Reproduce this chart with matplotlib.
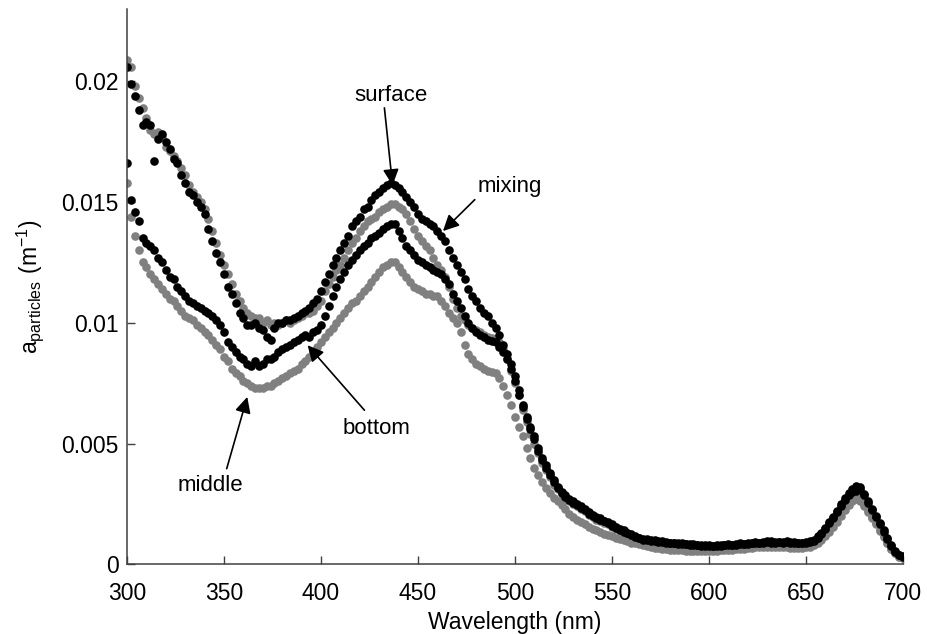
import numpy as np
import matplotlib
matplotlib.use("Agg")
import matplotlib.pyplot as plt

plt.rcParams['font.family'] = ['Liberation Sans', 'DejaVu Sans']

# particulate absorption spectra, 2 nm steps, values in 1e-3 m^-1
wavelength = np.arange(300, 701, 2)

surface = [
    20.6, 19.9, 19.4, 18.8, 18.2, 18.3, 18.2, 16.7, 17.6, 17.8,
    17.5, 17.2, 16.8, 16.6, 16.1, 15.8, 15.4, 15.3, 15.0, 14.8,
    14.5, 13.9, 13.4, 12.9, 12.5, 12.0, 11.5, 11.2, 10.8, 10.4,
    10.2, 9.9, 9.9, 10.0, 9.8, 9.7, 9.4, 9.3, 9.8, 10.0,
    10.0, 10.1, 10.1, 10.2, 10.3, 10.4, 10.5, 10.6, 10.8, 11.0,
    11.3, 11.7, 12.0, 12.4, 12.7, 13.0, 13.3, 13.6, 14.0, 14.2,
    14.4, 14.7, 14.8, 15.1, 15.3, 15.4, 15.6, 15.7, 15.8, 15.7,
    15.6, 15.4, 15.2, 15.0, 14.8, 14.5, 14.3, 14.2, 14.1, 14.0,
    13.8, 13.6, 13.4, 13.0, 12.7, 12.4, 12.1, 11.8, 11.4, 11.1,
    10.9, 10.6, 10.4, 10.3, 10.0, 9.8, 9.5, 9.1, 8.7, 8.3,
    7.8, 7.2, 6.6, 6.1, 5.7, 5.3, 4.8, 4.4, 4.1, 3.8,
    3.5, 3.2, 3.0, 2.85, 2.7, 2.6, 2.5, 2.4, 2.3, 2.15,
    2.05, 1.95, 1.9, 1.8, 1.75, 1.65, 1.55, 1.45, 1.4, 1.3,
    1.25, 1.15, 1.1, 1.05, 1.05, 1.0, 1.0, 0.98, 0.95, 0.92,
    0.9, 0.9, 0.88, 0.86, 0.85, 0.83, 0.82, 0.8, 0.78, 0.8,
    0.78, 0.76, 0.8, 0.78, 0.8, 0.82, 0.8, 0.84, 0.86, 0.85,
    0.88, 0.9, 0.92, 0.9, 0.94, 0.96, 0.95, 0.92, 0.94, 0.92,
    0.95, 0.93, 0.92, 0.9, 0.9, 0.92, 0.95, 1.0, 1.15, 1.3,
    1.5, 1.75, 1.95, 2.2, 2.5, 2.75, 2.95, 3.1, 3.25, 3.1,
    2.85, 2.55, 2.25, 1.95, 1.65, 1.35, 1.05, 0.75, 0.5, 0.38,
    0.3,
]

mixing = [
    20.9, 20.6, 19.8, 19.3, 18.9, 18.5, 18.0, 17.8, 17.9, 17.7,
    17.3, 17.1, 16.9, 16.7, 16.4, 16.1, 15.7, 15.4, 15.2, 15.0,
    14.7, 14.3, 13.8, 13.3, 12.8, 12.4, 12.0, 11.6, 11.2, 10.9,
    10.6, 10.4, 10.3, 10.2, 10.2, 10.0, 10.1, 9.9, 10.0, 9.9,
    10.0, 10.1, 10.0, 10.1, 10.2, 10.3, 10.4, 10.4, 10.5, 10.7,
    10.9, 11.3, 11.6, 11.9, 12.2, 12.4, 12.7, 13.0, 13.3, 13.5,
    13.8, 14.0, 14.2, 14.3, 14.4, 14.6, 14.7, 14.8, 14.9, 14.9,
    14.8, 14.7, 14.5, 14.2, 13.9, 13.6, 13.4, 13.2, 13.0, 12.7,
    12.4, 12.2, 11.9, 11.5, 11.0, 10.6, 10.3, 10.1, 9.9, 9.8,
    9.7, 9.6, 9.5, 9.4, 9.35, 9.3, 9.2, 8.9, 8.5, 8.0,
    7.5, 7.0, 6.4, 5.9, 5.4, 5.0, 4.6, 4.2, 3.9, 3.6,
    3.3, 3.1, 2.9, 2.75, 2.6, 2.5, 2.4, 2.3, 2.2, 2.05,
    1.95, 1.85, 1.8, 1.7, 1.65, 1.55, 1.45, 1.38, 1.3, 1.22,
    1.15, 1.08, 1.02, 0.98, 0.95, 0.92, 0.9, 0.88, 0.85, 0.83,
    0.82, 0.8, 0.78, 0.76, 0.75, 0.74, 0.72, 0.7, 0.7, 0.68,
    0.7, 0.68, 0.7, 0.72, 0.7, 0.72, 0.74, 0.75, 0.76, 0.78,
    0.8, 0.8, 0.82, 0.84, 0.82, 0.85, 0.84, 0.82, 0.84, 0.82,
    0.84, 0.82, 0.8, 0.8, 0.8, 0.82, 0.85, 0.9, 1.0, 1.15,
    1.35, 1.55, 1.75, 2.0, 2.25, 2.5, 2.7, 2.85, 2.9, 2.75,
    2.5, 2.25, 1.95, 1.7, 1.4, 1.15, 0.9, 0.65, 0.45, 0.3,
    0.25,
]

bottom = [
    16.6, 15.1, 14.6, 14.2, 13.5, 13.3, 13.2, 13.0, 12.7, 12.5,
    12.2, 11.9, 11.8, 11.5, 11.3, 11.1, 10.9, 10.8, 10.7, 10.6,
    10.5, 10.4, 10.3, 10.1, 9.9, 9.6, 9.2, 9.0, 8.8, 8.6,
    8.5, 8.3, 8.2, 8.4, 8.2, 8.3, 8.5, 8.5, 8.6, 8.8,
    8.9, 9.0, 9.1, 9.2, 9.3, 9.4, 9.5, 9.4, 9.6, 9.7,
    9.9, 10.3, 10.7, 11.1, 11.5, 11.8, 12.1, 12.4, 12.6, 12.8,
    13.0, 13.2, 13.3, 13.5, 13.6, 13.7, 13.9, 14.0, 14.1, 14.1,
    13.8, 13.5, 13.2, 13.0, 12.8, 12.6, 12.5, 12.4, 12.3, 12.2,
    12.1, 12.0, 11.8, 11.6, 11.2, 10.9, 10.6, 10.3, 10.0, 9.8,
    9.6, 9.5, 9.4, 9.3, 9.25, 9.2, 9.0, 8.8, 8.5, 8.1,
    7.6, 7.0, 6.5, 6.0, 5.6, 5.2, 4.7, 4.3, 4.0, 3.7,
    3.4, 3.15, 2.95, 2.8, 2.65, 2.55, 2.45, 2.35, 2.25, 2.1,
    2.0, 1.92, 1.85, 1.78, 1.7, 1.6, 1.5, 1.42, 1.35, 1.28,
    1.2, 1.12, 1.08, 1.02, 1.0, 0.98, 0.95, 0.93, 0.92, 0.9,
    0.88, 0.86, 0.85, 0.84, 0.82, 0.8, 0.8, 0.78, 0.76, 0.76,
    0.75, 0.77, 0.76, 0.75, 0.78, 0.8, 0.78, 0.8, 0.82, 0.84,
    0.85, 0.86, 0.88, 0.9, 0.9, 0.92, 0.9, 0.9, 0.92, 0.9,
    0.92, 0.9, 0.88, 0.88, 0.88, 0.9, 0.92, 0.98, 1.1, 1.25,
    1.45, 1.7, 1.9, 2.15, 2.4, 2.65, 2.85, 3.0, 3.05, 3.2,
    2.9, 2.6, 2.3, 2.0, 1.7, 1.4, 1.1, 0.8, 0.55, 0.4,
    0.35,
]

middle = [
    15.8, 14.4, 13.6, 13.0, 12.5, 12.3, 12.0, 11.8, 11.6, 11.4,
    11.2, 11.0, 10.9, 10.7, 10.5, 10.3, 10.2, 10.1, 9.9, 9.8,
    9.6, 9.5, 9.3, 9.1, 8.9, 8.6, 8.4, 8.1, 7.9, 7.8,
    7.6, 7.5, 7.4, 7.3, 7.3, 7.3, 7.4, 7.4, 7.5, 7.6,
    7.7, 7.8, 7.9, 8.0, 8.1, 8.3, 8.4, 8.6, 8.8, 9.0,
    9.2, 9.4, 9.6, 9.8, 10.0, 10.2, 10.4, 10.6, 10.8, 10.9,
    11.1, 11.3, 11.5, 11.7, 11.9, 12.1, 12.3, 12.4, 12.5, 12.5,
    12.3, 12.1, 11.9, 11.7, 11.5, 11.4, 11.3, 11.2, 11.2, 11.1,
    11.1, 10.9, 10.7, 10.4, 10.2, 10.0, 9.6, 9.1, 8.7, 8.5,
    8.3, 8.2, 8.1, 8.0, 7.95, 7.9, 7.7, 7.4, 7.0, 6.6,
    6.1, 5.7, 5.3, 4.8, 4.4, 4.0, 3.7, 3.4, 3.15, 2.95,
    2.75, 2.6, 2.45, 2.3, 2.1, 1.95, 1.85, 1.75, 1.65, 1.55,
    1.48, 1.4, 1.32, 1.26, 1.2, 1.15, 1.1, 1.05, 1.0, 0.95,
    0.9, 0.86, 0.82, 0.78, 0.74, 0.7, 0.68, 0.66, 0.64, 0.62,
    0.6, 0.6, 0.58, 0.57, 0.56, 0.56, 0.55, 0.55, 0.54, 0.55,
    0.56, 0.55, 0.56, 0.57, 0.58, 0.6, 0.6, 0.62, 0.64, 0.65,
    0.66, 0.68, 0.7, 0.7, 0.72, 0.72, 0.7, 0.7, 0.72, 0.7,
    0.7, 0.68, 0.68, 0.68, 0.68, 0.7, 0.72, 0.78, 0.88, 1.0,
    1.15, 1.35, 1.55, 1.75, 2.0, 2.25, 2.45, 2.6, 2.7, 2.6,
    2.4, 2.15, 1.9, 1.65, 1.38, 1.12, 0.88, 0.65, 0.45, 0.32,
    0.25,
]

series = [
    (mixing, '#808080'),
    (middle, '#808080'),
    (surface, 'black'),
    (bottom, 'black'),
]

# (label, text position, arrow tail, arrow tip) in nm / 1e-3 m^-1
labels = [
    ('surface', (436.3, 19.4), (432.7, 18.9), (436.9, 15.7)),
    ('mixing', (497.4, 15.66), (479.3, 15.1), (462.9, 13.8)),
    ('bottom', (428.4, 5.62), (422.4, 6.38), (393.1, 9.07)),
    ('middle', (343.1, 3.27), (351.4, 3.96), (362.0, 6.93)),
]

fig = plt.figure(figsize=(9.27, 6.34), dpi=100)
ax = fig.add_axes([0.137, 0.110, 0.837, 0.876])

for values, color in series:
    ax.plot(wavelength, np.array(values) * 1e-3, 'o', color=color,
            markersize=6.2, markeredgewidth=0, linestyle='none')

for text, pos, tail, tip in labels:
    ax.text(pos[0], pos[1] * 1e-3, text, fontsize=16, ha='center', va='center')
    ax.annotate('', xy=(tip[0], tip[1] * 1e-3), xytext=(tail[0], tail[1] * 1e-3),
                arrowprops=dict(arrowstyle='-|>', color='black', lw=1.2,
                                mutation_scale=24, shrinkA=0, shrinkB=0))

ax.set_xlim(300, 700)
ax.set_ylim(0, 0.023)
ax.set_xticks(np.arange(300, 701, 50))
ax.set_yticks([0, 0.005, 0.01, 0.015, 0.02])
ax.set_yticklabels(['0', '0.005', '0.01', '0.015', '0.02'])

for side in ['top', 'right']:
    ax.spines[side].set_visible(False)
for side in ['left', 'bottom']:
    ax.spines[side].set_color('#404040')
    ax.spines[side].set_linewidth(1.1)

ax.tick_params(direction='in', length=6, width=1.0, color='#404040',
               labelsize=16.5)
ax.tick_params(axis='x', pad=13)
ax.tick_params(axis='y', pad=6)

ax.set_xlabel('Wavelength (nm)', fontsize=16.5)
ax.set_ylabel(r'$\mathregular{a_{particles}\ (m^{-1})}$', fontsize=16.5)
ax.yaxis.set_label_coords(-0.105, 0.5)

fig.savefig('out.png', dpi=100)
